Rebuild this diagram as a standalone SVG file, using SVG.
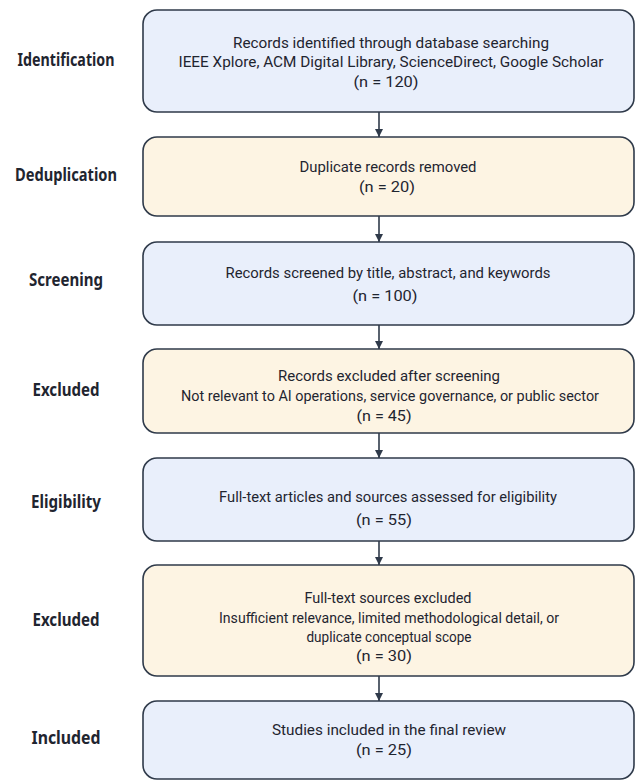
<svg xmlns="http://www.w3.org/2000/svg" width="637" height="780" viewBox="0 0 637 780">
  <defs>
    <marker id="arr" viewBox="0 0 10 10" refX="10" refY="5" markerWidth="8" markerHeight="8" markerUnits="userSpaceOnUse" orient="auto">
      <path d="M0,0 L10,5 L0,10 z" fill="#2f3a4a"/>
    </marker>
    <style>
      .box { stroke: #2f3a4a; stroke-width: 1.6; }
      .blue { fill: #e9effb; }
      .tan { fill: #fdf4e3; }
      .t { font-family: Roboto, "Noto Sans", sans-serif; font-size: 15.5px; fill: #1f2530; text-anchor: middle; }
      .lab { font-family: "Noto Sans", "DejaVu Sans", sans-serif; font-weight: bold; font-size: 17px; fill: #1f2530; text-anchor: middle; }
      .con { stroke: #2f3a4a; stroke-width: 1.6; fill: none; }
    </style>
  </defs>
  <rect width="637" height="780" fill="#ffffff"/>

  <g id="connectors">
    <line class="con" x1="379" y1="112" x2="379" y2="137" marker-end="url(#arr)"/>
    <line class="con" x1="379" y1="216" x2="379" y2="242" marker-end="url(#arr)"/>
    <line class="con" x1="379" y1="325" x2="379" y2="349" marker-end="url(#arr)"/>
    <line class="con" x1="379" y1="433" x2="379" y2="458" marker-end="url(#arr)"/>
    <line class="con" x1="379" y1="541" x2="379" y2="565" marker-end="url(#arr)"/>
    <line class="con" x1="379" y1="676" x2="379" y2="701" marker-end="url(#arr)"/>
  </g>

  <g id="identification">
    <text class="lab" x="66" y="66" textLength="97" lengthAdjust="spacingAndGlyphs">Identification</text>
    <rect class="box blue" x="143" y="10" width="491" height="102" rx="14"/>
    <text class="t" x="391" y="48" textLength="316" lengthAdjust="spacingAndGlyphs">Records identified through database searching</text>
    <text class="t" x="391" y="67" textLength="425" lengthAdjust="spacingAndGlyphs">IEEE Xplore, ACM Digital Library, ScienceDirect, Google Scholar</text>
    <text class="t" x="386" y="87" textLength="65" lengthAdjust="spacingAndGlyphs">(n = 120)</text>
  </g>

  <g id="deduplication">
    <text class="lab" x="66" y="181" textLength="102" lengthAdjust="spacingAndGlyphs">Deduplication</text>
    <rect class="box tan" x="143" y="137" width="491" height="79" rx="14"/>
    <text class="t" x="388" y="172" textLength="177" lengthAdjust="spacingAndGlyphs">Duplicate records removed</text>
    <text class="t" x="387" y="192" textLength="56" lengthAdjust="spacingAndGlyphs">(n = 20)</text>
  </g>

  <g id="screening">
    <text class="lab" x="66" y="286" textLength="74" lengthAdjust="spacingAndGlyphs">Screening</text>
    <rect class="box blue" x="143" y="242" width="491" height="83" rx="14"/>
    <text class="t" x="388" y="278" textLength="325" lengthAdjust="spacingAndGlyphs">Records screened by title, abstract, and keywords</text>
    <text class="t" x="385" y="301" textLength="65" lengthAdjust="spacingAndGlyphs">(n = 100)</text>
  </g>

  <g id="excluded-screening">
    <text class="lab" x="66" y="396" textLength="67" lengthAdjust="spacingAndGlyphs">Excluded</text>
    <rect class="box tan" x="143" y="349" width="491" height="84" rx="14"/>
    <text class="t" x="389" y="381" textLength="222" lengthAdjust="spacingAndGlyphs">Records excluded after screening</text>
    <text class="t" x="390" y="401" textLength="418" lengthAdjust="spacingAndGlyphs">Not relevant to AI operations, service governance, or public sector</text>
    <text class="t" x="384" y="421" textLength="55" lengthAdjust="spacingAndGlyphs">(n = 45)</text>
  </g>

  <g id="eligibility">
    <text class="lab" x="66" y="508" textLength="70" lengthAdjust="spacingAndGlyphs">Eligibility</text>
    <rect class="box blue" x="143" y="458" width="491" height="83" rx="14"/>
    <text class="t" x="388" y="502" textLength="338" lengthAdjust="spacingAndGlyphs">Full-text articles and sources assessed for eligibility</text>
    <text class="t" x="384" y="525" textLength="56" lengthAdjust="spacingAndGlyphs">(n = 55)</text>
  </g>

  <g id="excluded-fulltext">
    <text class="lab" x="66" y="626" textLength="67" lengthAdjust="spacingAndGlyphs">Excluded</text>
    <rect class="box tan" x="143" y="565" width="491" height="111" rx="14"/>
    <text class="t" x="388" y="603" textLength="167" lengthAdjust="spacingAndGlyphs">Full-text sources excluded</text>
    <text class="t" x="389" y="623" textLength="340" lengthAdjust="spacingAndGlyphs">Insufficient relevance, limited methodological detail, or</text>
    <text class="t" x="389" y="642" textLength="165" lengthAdjust="spacingAndGlyphs">duplicate conceptual scope</text>
    <text class="t" x="384" y="661" textLength="56" lengthAdjust="spacingAndGlyphs">(n = 30)</text>
  </g>

  <g id="included">
    <text class="lab" x="66" y="744" textLength="69" lengthAdjust="spacingAndGlyphs">Included</text>
    <rect class="box blue" x="143" y="701" width="491" height="78" rx="14"/>
    <text class="t" x="389" y="735" textLength="234" lengthAdjust="spacingAndGlyphs">Studies included in the final review</text>
    <text class="t" x="384" y="755" textLength="56" lengthAdjust="spacingAndGlyphs">(n = 25)</text>
  </g>
</svg>
